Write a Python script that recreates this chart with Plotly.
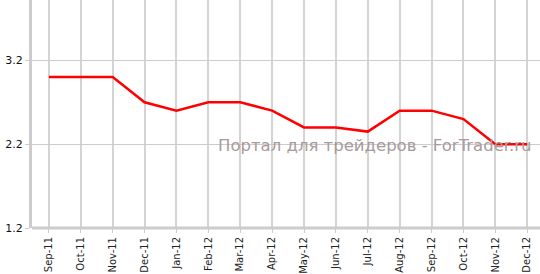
import plotly.graph_objects as go

months = ["Sep-11", "Oct-11", "Nov-11", "Dec-11", "Jan-12", "Feb-12", "Mar-12", "Apr-12",
          "May-12", "Jun-12", "Jul-12", "Aug-12", "Sep-12", "Oct-12", "Nov-12", "Dec-12"]
values = [3.0, 3.0, 3.0, 2.7, 2.6, 2.7, 2.7, 2.6, 2.4, 2.4, 2.35, 2.6, 2.6, 2.5, 2.2, 2.2]
y_ticks = [1.2, 2.2, 3.2]
y_tick_labels = ["1.2", "2.2", "3.2"]
watermark = "Портал для трейдеров - ForTrader.ru"

x_idx = list(range(len(months)))

fig = go.Figure()
fig.add_trace(go.Scatter(x=x_idx, y=values, mode="lines",
                         line=dict(color="#ff0000", width=2.5), hoverinfo="skip"))

fig.update_layout(
    width=540, height=274,
    margin=dict(l=32, r=0, t=0, b=44),
    paper_bgcolor="white", plot_bgcolor="white",
    showlegend=False,
    font=dict(family="DejaVu Sans", size=10, color="#222222"),
    xaxis=dict(
        range=[-0.53, 15.4],
        tickmode="array", tickvals=x_idx, ticktext=months,
        tickangle=-90,
        showgrid=True, gridcolor="#d4d4d4", gridwidth=1.5,
        showline=False, zeroline=False,
        ticks="outside", ticklen=4, tickcolor="#cccccc",
        tickfont=dict(family="DejaVu Sans", size=10, color="#222222"),
    ),
    yaxis=dict(
        range=[1.2, 3.92],
        tickmode="array", tickvals=y_ticks, ticktext=y_tick_labels,
        showgrid=True, gridcolor="#cccccc", gridwidth=1,
        showline=True, linecolor="#cccccc", linewidth=3,
        zeroline=False,
        ticks="outside", ticklen=4, tickcolor="#cccccc",
        tickfont=dict(family="DejaVu Sans", size=11, color="#111111"),
    ),
    shapes=[dict(type="line", xref="paper", yref="paper", x0=0, x1=1, y0=0, y1=0,
                 line=dict(color="#cccccc", width=3))],
    annotations=[dict(text=watermark, xref="x", yref="y", x=15.2, y=2.18,
                      xanchor="right", yanchor="middle", showarrow=False,
                      font=dict(family="DejaVu Sans", size=16.5, color="#a89a9a"))],
)

fig.write_html("out.html")
